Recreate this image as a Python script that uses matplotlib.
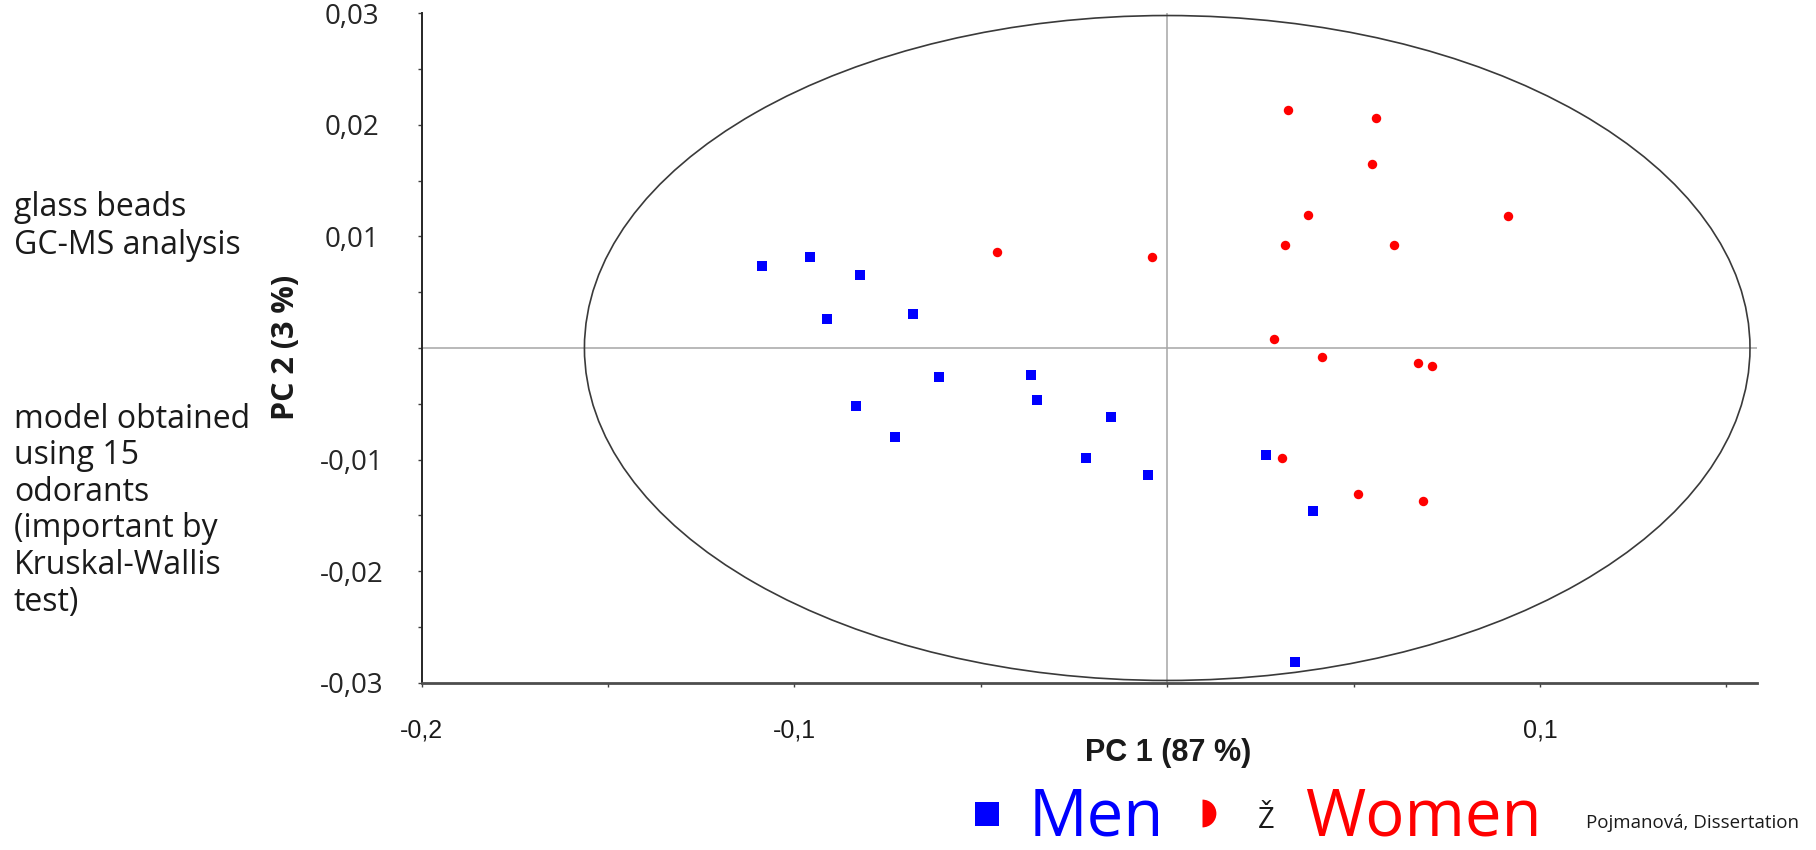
"""PCA score plot of glass-bead GC-MS samples, men vs. women."""

import matplotlib
import matplotlib.pyplot as plt
from matplotlib.lines import Line2D
from matplotlib.patches import Ellipse
from matplotlib.ticker import FixedLocator, FuncFormatter

matplotlib.use("Agg")

# ---------------------------------------------------------------------------
# Scores
# ---------------------------------------------------------------------------

men_pc1 = [-0.1087, -0.0957, -0.0823, -0.0913, -0.0683, -0.0612, -0.0364, -0.0349,
           -0.0834, -0.0731, -0.0152, -0.0219, -0.0052, 0.0264, 0.0390, 0.0342]
men_pc2 = [0.00735, 0.00818, 0.00657, 0.00263, 0.00302, -0.00257, -0.00245, -0.00469,
           -0.00517, -0.00800, -0.00616, -0.00988, -0.01135, -0.00961, -0.01461, -0.02811]

women_pc1 = [-0.0456, -0.0041, 0.0323, 0.0561, 0.0549, 0.0378, 0.0913, 0.0316,
             0.0609, 0.0286, 0.0416, 0.0672, 0.0709, 0.0308, 0.0513, 0.0687]
women_pc2 = [0.00858, 0.00818, 0.02133, 0.02058, 0.01649, 0.01192, 0.01180, 0.00920,
             0.00920, 0.00078, -0.00083, -0.00134, -0.00159, -0.00988, -0.01311, -0.01374]

# Hotelling T2 ellipse semi-axes
t2_pc1 = 0.1563
t2_pc2 = 0.0298

x_tick_labels = {-0.2: "-0,2", -0.1: "-0,1", 0.1: "0,1"}
y_tick_labels = {0.03: "0,03", 0.02: "0,02", 0.01: "0,01",
                 -0.01: "-0,01", -0.02: "-0,02", -0.03: "-0,03"}

notes_top = ["glass beads", "GC-MS analysis"]
notes_bottom = ["model obtained", "using 15", "odorants", "(important by",
                "Kruskal-Wallis", "test)"]

W, H = 1816, 850
ARIAL = ["Liberation Sans", "DejaVu Sans"]
plt.rcParams["font.family"] = ["Open Sans", "DejaVu Sans"]


def fx(px):
    return px / W


def fy(py):
    return 1 - py / H


fig = plt.figure(figsize=(W / 100, H / 100), dpi=100)
ax = fig.add_axes([fx(421.5), fy(682.7), fx(1756.7 - 421.5), (682.7 - 13.3) / H])

ax.axhline(0, color="#a6a6a6", lw=1.1, zorder=1)
ax.axvline(0, color="#a6a6a6", lw=1.1, zorder=1)
ax.add_patch(Ellipse((0, 0), 2 * t2_pc1, 2 * t2_pc2, fill=False,
                     ec="#3a3a3a", lw=1.2, zorder=2))

ax.plot(men_pc1, men_pc2, "s", color="#0000ff", ms=7, mew=0, zorder=3)
ax.plot(women_pc1, women_pc2, "o", color="#ff0000", ms=6.8, mew=0, zorder=3)

ax.set_xlim(-0.2, 0.1581)
ax.set_ylim(-0.03, 0.03)

for side in ("top", "right"):
    ax.spines[side].set_visible(False)
ax.spines["left"].set_color("#262626")
ax.spines["left"].set_linewidth(1.4)
ax.spines["bottom"].set_color("#4d4d4d")
ax.spines["bottom"].set_linewidth(2.0)


def _lookup(table):
    return lambda v, pos: table.get(round(v, 3), "")


ax.xaxis.set_major_locator(FixedLocator([-0.2, -0.15, -0.1, -0.05, 0, 0.05, 0.1, 0.15]))
ax.xaxis.set_major_formatter(FuncFormatter(_lookup(x_tick_labels)))
ax.yaxis.set_major_locator(FixedLocator([i * 0.005 for i in range(-6, 7)]))
ax.yaxis.set_major_formatter(FuncFormatter(_lookup(y_tick_labels)))

ax.tick_params(axis="both", direction="out", length=3, width=1, color="#404040")
ax.tick_params(axis="x", pad=23, labelsize=18, labelcolor="#1a1a1a")
ax.tick_params(axis="y", pad=47, labelsize=20, labelcolor="#262626")
for lbl in ax.get_xticklabels():
    lbl.set_family(ARIAL)
for lbl in ax.get_yticklabels():
    lbl.set_horizontalalignment("center")

fig.text(fx(1168), fy(753), "PC 1 (87 %)", family=ARIAL, fontsize=22,
         fontweight="bold", ha="center", va="center", color="#1a1a1a")
fig.text(fx(286), fy(347), "PC 2 (3 %)", fontsize=22, fontweight="bold",
         rotation=90, ha="center", va="center", color="#1a1a1a")

# notes on the left
for i, line in enumerate(notes_top):
    fig.text(fx(14), fy(208 + 37.5 * i), line, fontsize=23, va="center",
             color="#1a1a1a")
for i, line in enumerate(notes_bottom):
    fig.text(fx(14), fy(419 + 36.6 * i), line, fontsize=23, va="center",
             color="#1a1a1a")

# legend row along the bottom edge
fig.add_artist(Line2D([fx(986.7)], [fy(814)], marker="s", ms=17.3, mew=0,
                      color="#0000ff", transform=fig.transFigure))
fig.add_artist(Line2D([fx(1202)], [fy(813)], marker="o", ms=20, mew=0,
                      color="#ff0000", fillstyle="right",
                      markerfacecoloralt="none", transform=fig.transFigure))
fig.text(fx(1029), fy(836), "Men", fontsize=47, color="#0000ff", va="baseline")
fig.text(fx(1258), fy(828), "Ž", fontsize=21, color="#1a1a1a", va="baseline")
fig.text(fx(1305), fy(836), "Women", fontsize=47, color="#ff0000", va="baseline")
fig.text(fx(1586), fy(828), "Pojmanová, Dissertation", fontsize=13.5,
         color="#1a1a1a", va="baseline")

fig.savefig("out.png", dpi=100)
plt.close(fig)
